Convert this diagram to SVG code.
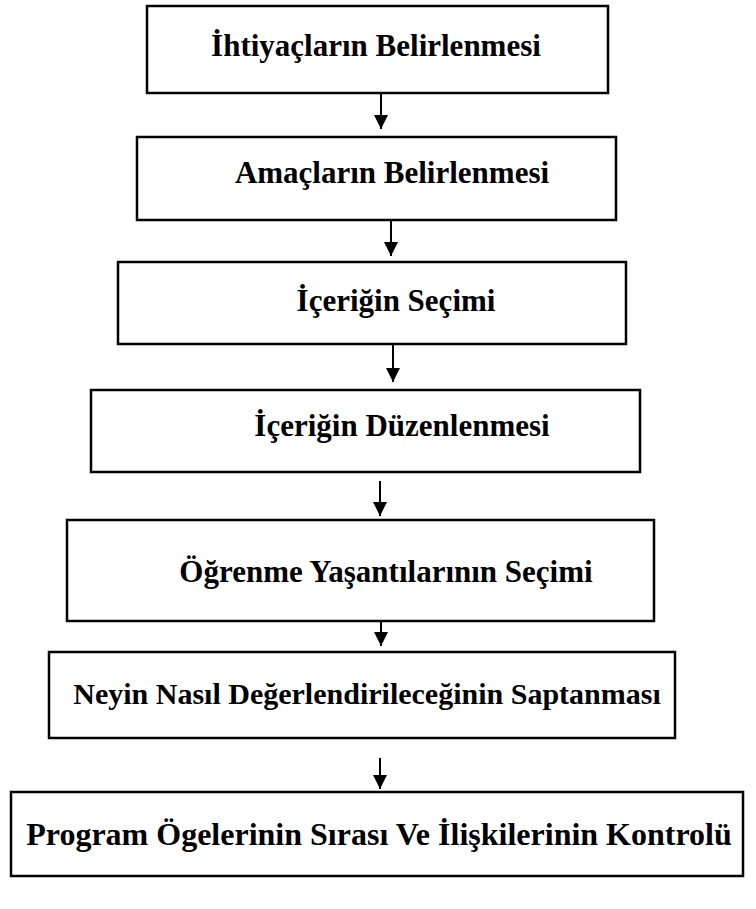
<svg xmlns="http://www.w3.org/2000/svg" width="756" height="909" viewBox="0 0 756 909">
<style>
.box{fill:#fff;stroke:#000;stroke-width:2.5}
.lbl{font-family:"Liberation Serif","Times New Roman",serif;font-weight:bold;font-size:31px;fill:#000;text-anchor:middle}
.sm{font-size:30px}
.lg{font-size:32px}
.conn{stroke:#000;stroke-width:2;fill:none;marker-end:url(#ah)}
</style>
<defs>
<marker id="ah" markerWidth="7" markerHeight="7" refX="7" refY="3.5" orient="auto" markerUnits="strokeWidth">
<path d="M0,0 L7,3.5 L0,7 Z" fill="#000"/>
</marker>
</defs>
<rect width="756" height="909" fill="#fff"/>
<g id="connectors">
<line class="conn" x1="381" y1="93" x2="381" y2="129"/>
<line class="conn" x1="391" y1="220" x2="391" y2="256"/>
<line class="conn" x1="393" y1="344" x2="393" y2="382"/>
<line class="conn" x1="380" y1="481" x2="380" y2="516"/>
<line class="conn" x1="381" y1="613" x2="381" y2="646"/>
<line class="conn" x1="380" y1="758" x2="380" y2="789"/>
</g>
<g id="n1"><rect class="box" x="147" y="6" width="461" height="87"/><text class="lbl" x="376" y="56">İhtiyaçların Belirlenmesi</text></g>
<g id="n2"><rect class="box" x="137" y="137" width="479" height="83"/><text class="lbl" x="392" y="183">Amaçların Belirlenmesi</text></g>
<g id="n3"><rect class="box" x="118" y="262" width="508" height="82"/><text class="lbl" x="396" y="311">İçeriğin Seçimi</text></g>
<g id="n4"><rect class="box" x="91" y="390" width="549" height="82"/><text class="lbl" x="402" y="436">İçeriğin Düzenlenmesi</text></g>
<g id="n5"><rect class="box" x="67" y="520" width="587" height="101"/><text class="lbl" x="386" y="582">Öğrenme Yaşantılarının Seçimi</text></g>
<g id="n6"><rect class="box" x="49" y="652" width="626" height="86"/><text class="lbl sm" x="367" y="704">Neyin Nasıl Değerlendirileceğinin Saptanması</text></g>
<g id="n7"><rect class="box" x="11" y="792" width="732" height="84"/><text class="lbl lg" x="379" y="845">Program Ögelerinin Sırası Ve İlişkilerinin Kontrolü</text></g>
</svg>
